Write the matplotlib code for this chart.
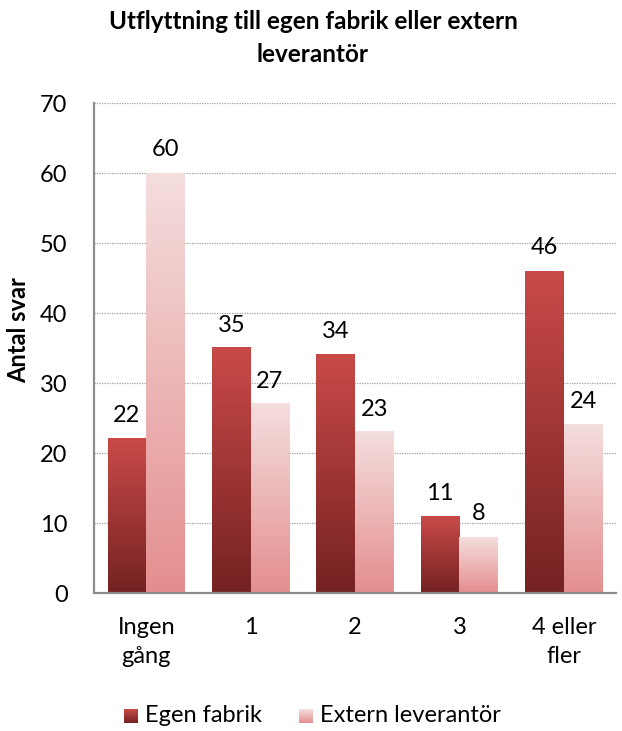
import numpy as np
import matplotlib
matplotlib.use("Agg")
import matplotlib.pyplot as plt
from matplotlib.colors import LinearSegmentedColormap

plt.rcParams['font.family'] = ['Lato', 'DejaVu Sans']

categories = ["Ingen\ngång", "1", "2", "3", "4 eller\nfler"]
series_names = ["Egen fabrik", "Extern leverantör"]
egen = [22, 35, 34, 11, 46]
extern = [60, 27, 23, 8, 24]
title = "Utflyttning till egen fabrik eller extern\nleverantör"
ylabel = "Antal svar"

FS = 17

fig = plt.figure(figsize=(6.22, 7.31), dpi=100)
ax = fig.add_axes([94/622, 1-593/731, (616-94)/622, (593-103)/731])

cmaps = [
    LinearSegmentedColormap.from_list("egen", ["#742222", "#c94a48"]),
    LinearSegmentedColormap.from_list("ext", ["#e48e8e", "#f4dede"]),
]
grad = np.linspace(0, 1, 256).reshape(-1, 1)
bw = 0.37
x = np.arange(len(categories))
for si, vals in enumerate([egen, extern]):
    offs = (si - 0.5) * bw
    for xi, v in zip(x, vals):
        left = xi + offs - bw / 2
        ax.imshow(grad, cmap=cmaps[si], origin="lower", aspect="auto",
                  extent=(left, left + bw, 0, v), zorder=3)
        ax.annotate(str(v), (xi + offs, v), xytext=(0, 9), textcoords="offset points",
                    ha="center", va="bottom", fontsize=FS, color="black", zorder=4)

ax.set_xlim(-0.5, len(categories) - 0.5)
ax.set_ylim(0, 70)
ax.set_yticks(range(0, 71, 10))
ax.set_xticks(x)
ax.set_xticklabels(categories, fontsize=FS, linespacing=1.5)
ax.tick_params(axis="y", labelsize=FS, length=0, pad=19)
ax.tick_params(axis="x", length=0, pad=17)
ax.grid(axis="y", linestyle=(0, (1, 1)), color="#a0a0a0", linewidth=0.9, zorder=0)
ax.set_axisbelow(True)
for s in ["top", "right"]:
    ax.spines[s].set_visible(False)
for s in ["left", "bottom"]:
    ax.spines[s].set_color("#8c8c8c")
    ax.spines[s].set_linewidth(1.6)
    ax.spines[s].set_zorder(5)

fig.text(313/622, 1-10/731, title, ha="center", va="top", fontsize=17.5,
         fontweight="bold", linespacing=1.55)
fig.text(19/622, 1-330/731, ylabel, ha="center", va="center", rotation=90,
         fontsize=FS, fontweight="bold")

# legend
leg_items = [(124, series_names[0], cmaps[0]), (299, series_names[1], cmaps[1])]
ly = 716
for px, name, cm in leg_items:
    lax = fig.add_axes([px/622, 1-(ly+7)/731, 14/622, 14/731])
    lax.imshow(grad, cmap=cm, origin="lower", aspect="auto")
    lax.axis("off")
    fig.text((px+21)/622, 1-ly/731, name, ha="left", va="center", fontsize=FS)

fig.savefig("out.png", dpi=100)
